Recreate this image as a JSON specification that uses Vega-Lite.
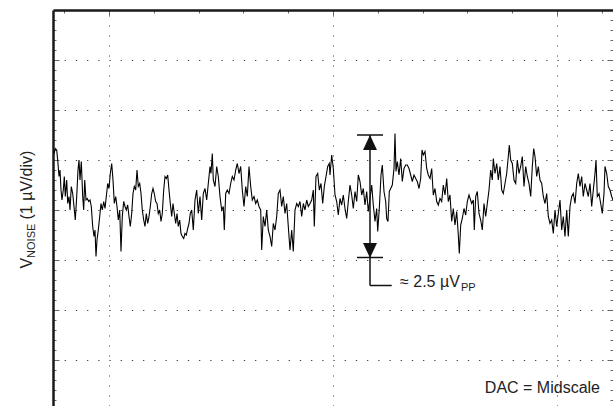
{
 "$schema": "https://vega.github.io/schema/vega-lite/v6.json",
 "width": 560,
 "height": 396,
 "autosize": {"type": "none"},
 "padding": {"left": 53, "top": 10, "right": 0, "bottom": 0},
 "config": {"view": {"stroke": null}, "font": "Liberation Sans", "text": {"font": "Liberation Sans"}},
 "resolve": {"axis": {"y": "independent"}},
 "layer": [
  {
   "data": {"values": [
    {"t":1,"v":1.13},{"t":2.3,"v":1.23},{"t":3.7,"v":1.2},{"t":5,"v":0.93},{"t":6,"v":0.67},{"t":7,"v":0.8},{"t":8,"v":0.4},{"t":9,"v":0.2},{"t":10.3,"v":0.4},{"t":11.3,"v":0.67},{"t":12.3,"v":0.27},{"t":13.7,"v":0.6},{"t":14.7,"v":0.13},{"t":16,"v":0.27},{"t":17,"v":0},{"t":18.3,"v":0.47},{"t":19.7,"v":0.33},{"t":21,"v":0.07},{"t":22.3,"v":-0.2},{"t":23.7,"v":0.27},{"t":25,"v":0.8},{"t":26,"v":1.0},{"t":27,"v":0.6},{"t":28.3,"v":0.97},{"t":29.7,"v":0.27},{"t":30.7,"v":0},{"t":31.7,"v":0.6},{"t":33,"v":0.2},{"t":34.3,"v":0.23},{"t":35.7,"v":0.17},{"t":37,"v":0.2},{"t":38.3,"v":0.07},{"t":39.7,"v":-0.33},{"t":41,"v":-0.53},{"t":42,"v":-0.4},{"t":43,"v":-0.93},{"t":44,"v":-0.6},{"t":45.3,"v":-0.4},{"t":46.7,"v":-0.13},{"t":48,"v":0.13},{"t":49.3,"v":0},{"t":50.7,"v":0.17},{"t":52,"v":0.03},{"t":53.3,"v":0.27},{"t":54.7,"v":0.53},{"t":56,"v":0.43},{"t":57.3,"v":0.73},{"t":58.7,"v":0.93},{"t":60,"v":0.6},{"t":61.3,"v":0.13},{"t":62.7,"v":0.27},{"t":64,"v":0.07},{"t":65.3,"v":-0.2},{"t":66.7,"v":0},{"t":68,"v":-0.83},{"t":69.3,"v":-0.13},{"t":70.7,"v":0.17},{"t":72,"v":0.07},{"t":73.3,"v":0},{"t":74.7,"v":0.1},{"t":76,"v":-0.13},{"t":77.3,"v":-0.33},{"t":78.7,"v":-0.07},{"t":80,"v":0.33},{"t":81.3,"v":0.47},{"t":82.7,"v":0.4},{"t":84,"v":0.8},{"t":85.3,"v":0.47},{"t":86.7,"v":0.53},{"t":88,"v":0.33},{"t":89.3,"v":0},{"t":90.7,"v":-0.2},{"t":92,"v":-0.33},{"t":93.3,"v":-0.07},{"t":94.7,"v":-0.27},{"t":96,"v":-0.13},{"t":97.3,"v":0.07},{"t":98.7,"v":0.33},{"t":100,"v":0.43},{"t":101.3,"v":0.33},{"t":102.7,"v":0.17},{"t":104,"v":0.13},{"t":105.3,"v":-0.07},{"t":106.7,"v":0},{"t":108,"v":-0.23},{"t":109.3,"v":-0.07},{"t":110.7,"v":0.4},{"t":112,"v":0.67},{"t":113.3,"v":0.63},{"t":114.7,"v":0.7},{"t":116,"v":0.4},{"t":117.3,"v":0.13},{"t":118.7,"v":-0.13},{"t":120,"v":0.13},{"t":121.3,"v":-0.07},{"t":122.7,"v":-0.27},{"t":124,"v":-0.07},{"t":125.3,"v":-0.33},{"t":126.7,"v":-0.2},{"t":128,"v":-0.47},{"t":129.3,"v":-0.53},{"t":130.7,"v":-0.57},{"t":132,"v":-0.47},{"t":133.3,"v":-0.5},{"t":134.7,"v":-0.37},{"t":136,"v":-0.27},{"t":137.3,"v":-0.07},{"t":138.7,"v":0},
    {"t":140.3,"v":-0.4},{"t":142,"v":0.2},{"t":143.7,"v":0.4},{"t":145.3,"v":-0.07},{"t":147,"v":0.27},{"t":148.7,"v":-0.2},{"t":150.3,"v":0.33},{"t":152,"v":0.43},{"t":153.7,"v":0.2},{"t":155.3,"v":0.53},{"t":157,"v":0.87},{"t":158,"v":0.73},{"t":159.3,"v":1.13},{"t":160.3,"v":0.6},{"t":162,"v":0.47},{"t":163.7,"v":0.87},{"t":165.3,"v":0.67},{"t":167,"v":0.27},{"t":168.7,"v":0},{"t":170.3,"v":0.07},{"t":171.3,"v":-0.4},{"t":172.7,"v":0.33},{"t":174.3,"v":0.4},{"t":176,"v":0.33},{"t":177.7,"v":0.53},{"t":179.3,"v":0.67},{"t":181,"v":0.6},{"t":182.7,"v":0.8},{"t":184.3,"v":0.93},{"t":186,"v":0.73},{"t":187.7,"v":0.87},{"t":189.3,"v":0.4},{"t":191,"v":0.07},{"t":192.7,"v":0.47},{"t":194.3,"v":0.27},{"t":196,"v":0.87},{"t":197.7,"v":0.47},{"t":199.3,"v":0.2},{"t":201,"v":0.27},{"t":202.7,"v":0.13},{"t":204.3,"v":0.2},{"t":206,"v":0.07},{"t":207.7,"v":0},{"t":208.7,"v":-0.8},{"t":210.3,"v":-0.13},{"t":212,"v":-0.33},{"t":213.7,"v":0},{"t":215.3,"v":-0.4},{"t":217,"v":-0.53},{"t":218.7,"v":-0.73},{"t":220.3,"v":-0.27},{"t":222,"v":-0.4},{"t":223.7,"v":-0.13},{"t":225.3,"v":0.33},{"t":227,"v":0.4},{"t":228.7,"v":0.07},{"t":230.3,"v":0.27},{"t":232,"v":-0.07},{"t":233.7,"v":0.13},{"t":235.3,"v":-0.33},{"t":237,"v":-0.8},{"t":238.7,"v":-0.4},{"t":240.3,"v":-0.83},{"t":242,"v":0},{"t":243.7,"v":0.13},{"t":245.3,"v":0.07},{"t":247,"v":0.17},{"t":248.7,"v":-0.13},{"t":250.3,"v":0.13},{"t":252,"v":0},{"t":253.7,"v":0.2},{"t":255.3,"v":0.07},{"t":257,"v":0.13},{"t":258.7,"v":0.2},{"t":260.3,"v":0.4},{"t":261.3,"v":-0.33},{"t":263,"v":0.67},{"t":264.7,"v":0.73},{"t":266.3,"v":0.4},{"t":268,"v":0.53},{"t":269.7,"v":0.13},{"t":271.3,"v":0.47},{"t":273,"v":0.67},{"t":274.7,"v":0.87},{"t":276.3,"v":0.93},
    {"t":277,"v":0.7},{"t":278.7,"v":1.1},{"t":280.3,"v":0.83},{"t":282,"v":0.3},{"t":283.7,"v":0.17},{"t":285.3,"v":-0.1},{"t":287,"v":0.23},{"t":288.7,"v":0.1},{"t":290.3,"v":0.3},{"t":292,"v":0.03},{"t":293.7,"v":-0.17},{"t":295.3,"v":0.17},{"t":297,"v":0.5},{"t":298.7,"v":0.3},{"t":300.3,"v":0.03},{"t":302,"v":0.37},{"t":303.7,"v":0.17},{"t":305.3,"v":0.7},{"t":307,"v":0.57},{"t":308.7,"v":0.3},{"t":310.3,"v":0.43},{"t":312,"v":0.1},{"t":313.7,"v":0.37},{"t":315.3,"v":-0.03},{"t":317,"v":0.23},{"t":318.7,"v":0.5},{"t":320.3,"v":0.1},{"t":322,"v":-0.23},{"t":323.7,"v":0.03},{"t":324.7,"v":-0.43},{"t":326.3,"v":0.03},{"t":328,"v":0.7},{"t":329.3,"v":0.9},{"t":331,"v":0.37},{"t":332.7,"v":0.17},{"t":333.7,"v":-0.17},{"t":335,"v":-0.23},{"t":336.3,"v":0.37},{"t":337.7,"v":0.43},{"t":339.3,"v":0.5},{"t":341,"v":0.83},{"t":342,"v":1.53},{"t":343,"v":0.77},{"t":344.3,"v":0.97},{"t":346,"v":0.7},{"t":347.7,"v":1.03},{"t":349.3,"v":0.57},{"t":351,"v":0.83},{"t":352.7,"v":0.9},{"t":354.3,"v":0.9},{"t":356,"v":0.83},{"t":357.7,"v":0.7},{"t":359.3,"v":0.57},{"t":361,"v":0.7},{"t":362.7,"v":0.63},{"t":364.3,"v":0.57},{"t":366,"v":0.43},{"t":367.7,"v":0.63},{"t":369,"v":1.2},{"t":370.3,"v":1.1},{"t":372,"v":1.17},{"t":373.7,"v":0.83},{"t":375.3,"v":0.7},{"t":377,"v":0.63},{"t":378.7,"v":0.83},{"t":380.3,"v":0.3},{"t":382,"v":0.43},{"t":383.7,"v":0.17},{"t":385.3,"v":0.1},{"t":387,"v":0.23},{"t":388.7,"v":0.17},{"t":390.3,"v":0.5},{"t":392,"v":0.3},{"t":393.7,"v":0.63},{"t":395.3,"v":0.17},{"t":397,"v":0.3},{"t":398.7,"v":-0.23},{"t":400.3,"v":0.03},{"t":402,"v":-0.3},{"t":403.7,"v":-0.03},{"t":405.3,"v":-0.5},{"t":406.3,"v":-0.87},{"t":407.7,"v":-0.3},{"t":409.3,"v":-0.17},{"t":411,"v":0.03},{"t":412.7,"v":-0.1},{"t":414.3,"v":0.17},{"t":416,"v":0.3},
    {"t":418.7,"v":0.13},{"t":420.3,"v":0.2},{"t":421.3,"v":-0.4},{"t":422.7,"v":0.27},{"t":424.3,"v":0.37},{"t":426,"v":-0.07},{"t":427.7,"v":-0.2},{"t":429.3,"v":-0.4},{"t":431,"v":0.13},{"t":432.7,"v":-0.13},{"t":434.3,"v":0.13},{"t":436,"v":0.4},{"t":437.7,"v":0.8},{"t":439.3,"v":0.6},{"t":440.3,"v":1.03},{"t":442,"v":0.73},{"t":443.7,"v":0.93},{"t":445.3,"v":0.6},{"t":447,"v":0.87},{"t":448.7,"v":0.4},{"t":450.3,"v":0.33},{"t":452,"v":0.53},{"t":453.7,"v":0.73},{"t":455.3,"v":1.07},{"t":456.3,"v":1.3},{"t":457.7,"v":1.0},{"t":459.3,"v":0.93},{"t":461,"v":0.6},{"t":462.7,"v":0.53},{"t":464.3,"v":1.0},{"t":466,"v":0.73},{"t":467.7,"v":0.87},{"t":469.3,"v":1.07},{"t":471,"v":0.47},{"t":472.7,"v":0.87},{"t":474.3,"v":0.67},{"t":476,"v":0.53},{"t":477.7,"v":0.27},{"t":479.3,"v":0.87},{"t":480.7,"v":1.23},{"t":482,"v":1.07},{"t":483.7,"v":0.67},{"t":485.3,"v":0.87},{"t":487,"v":0.6},{"t":488.7,"v":0.53},{"t":490.3,"v":0.27},{"t":492,"v":0.13},{"t":493.7,"v":0.33},{"t":495.3,"v":-0.13},{"t":497,"v":-0.27},{"t":498.7,"v":-0.2},{"t":500.3,"v":-0.47},{"t":502,"v":0},{"t":503.7,"v":-0.33},{"t":505.3,"v":-0.07},{"t":507,"v":0.2},{"t":508.7,"v":-0.4},{"t":510.3,"v":-0.13},{"t":512,"v":-0.53},{"t":513.7,"v":0},{"t":515.3,"v":-0.53},{"t":517,"v":0.07},{"t":518.7,"v":0.27},{"t":520.3,"v":0.33},{"t":522,"v":0.13},{"t":523.7,"v":0.53},{"t":525.3,"v":0.73},{"t":527,"v":0.47},{"t":528.7,"v":0.67},{"t":530.3,"v":0.27},{"t":532,"v":0.53},{"t":533.7,"v":0.4},{"t":535.3,"v":0.27},{"t":537,"v":0.53},{"t":538.7,"v":0.07},{"t":540.3,"v":0.4},{"t":542,"v":0.73},{"t":543,"v":1.0},{"t":544.3,"v":0.27},{"t":546,"v":0.33},{"t":547.7,"v":0.13},{"t":549.3,"v":-0.07},{"t":551,"v":0.33},{"t":552,"v":0.87},{"t":553.7,"v":0.73},{"t":555.3,"v":0.47},{"t":557,"v":0.4},{"t":558.7,"v":0.27},{"t":560,"v":0.2}
   ]},
   "mark": {"type": "line", "color": "#000", "strokeWidth": 1.1},
   "encoding": {
    "x": {"field": "t", "type": "quantitative",
     "scale": {"domain": [0, 560], "nice": false, "zero": false},
     "axis": {"orient": "top", "title": null, "labels": false,
      "values": [11.2,22.4,33.6,44.8,56,67.2,78.4,89.6,100.8,112,123.2,134.4,145.6,156.8,168,179.2,190.4,201.6,212.8,224,235.2,246.4,257.6,268.8,280,291.2,302.4,313.6,324.8,336,347.2,358.4,369.6,380.8,392,403.2,414.4,425.6,436.8,448,459.2,470.4,481.6,492.8,504,515.2,526.4,537.6,548.8,560],
      "domain": true, "domainColor": "#1a1a1a", "domainWidth": 2.5,
      "ticks": true, "tickColor": "#666", "tickWidth": 1,
      "tickSize": {"condition": {"test": "abs(datum.value/56 - round(datum.value/56)) < 0.001", "value": -5}, "value": -3},
      "grid": true, "gridColor": "#333", "gridWidth": 1, "gridDash": [1, 9],
      "gridOpacity": {"condition": {"test": "abs(datum.value/56 - round(datum.value/56)) < 0.001", "value": 1}, "value": 0}}},
    "y": {"field": "v", "type": "quantitative",
     "scale": {"domain": [-3.92, 4], "nice": false, "zero": false},
     "axis": {"orient": "left", "title": null, "labels": false,
      "values": [-3.8,-3.6,-3.4,-3.2,-3,-2.8,-2.6,-2.4,-2.2,-2,-1.8,-1.6,-1.4,-1.2,-1,-0.8,-0.6,-0.4,-0.2,0,0.2,0.4,0.6,0.8,1,1.2,1.4,1.6,1.8,2,2.2,2.4,2.6,2.8,3,3.2,3.4,3.6,3.8],
      "domain": true, "domainColor": "#1a1a1a", "domainWidth": 2.5,
      "ticks": true, "tickColor": "#666", "tickWidth": 1,
      "tickSize": {"condition": {"test": "abs(datum.value - round(datum.value)) < 0.001", "value": -6}, "value": -3},
      "grid": true, "gridColor": "#333", "gridWidth": 1, "gridDash": [1.2, 10],
      "gridOpacity": {"condition": {"test": "abs(datum.value - round(datum.value)) < 0.001", "value": 1}, "value": 0}}}
   }
  },
  {
   "data": {"values": [{}]},
   "mark": {"type": "rule", "color": "#111", "strokeWidth": 1.5},
   "encoding": {
    "x": {"datum": 317, "type": "quantitative"},
    "y": {"datum": 1.5, "type": "quantitative",
     "axis": {"orient": "right", "title": null, "labels": false, "domain": false, "grid": false,
      "values": [-3.8,-3.6,-3.4,-3.2,-3,-2.8,-2.6,-2.4,-2.2,-2,-1.8,-1.6,-1.4,-1.2,-1,-0.8,-0.6,-0.4,-0.2,0,0.2,0.4,0.6,0.8,1,1.2,1.4,1.6,1.8,2,2.2,2.4,2.6,2.8,3,3.2,3.4,3.6,3.8],
      "ticks": true, "tickColor": "#666", "tickWidth": 1,
      "tickSize": {"condition": {"test": "abs(datum.value - round(datum.value)) < 0.001", "value": -6}, "value": -3}}},
    "y2": {"datum": -1.51}
   }
  },
  {
   "data": {"values": [{}]},
   "mark": {"type": "rule", "color": "#111", "strokeWidth": 1.5},
   "encoding": {
    "x": {"datum": 304, "type": "quantitative"}, "x2": {"datum": 330},
    "y": {"datum": 1.5, "type": "quantitative", "axis": null}
   }
  },
  {
   "data": {"values": [{}]},
   "mark": {"type": "rule", "color": "#111", "strokeWidth": 1.5},
   "encoding": {
    "x": {"datum": 304, "type": "quantitative"}, "x2": {"datum": 330},
    "y": {"datum": -0.95, "type": "quantitative", "axis": null}
   }
  },
  {
   "data": {"values": [{}]},
   "mark": {"type": "rule", "color": "#111", "strokeWidth": 1.5},
   "encoding": {
    "x": {"datum": 317, "type": "quantitative"}, "x2": {"datum": 338.7},
    "y": {"datum": -1.51, "type": "quantitative", "axis": null}
   }
  },
  {
   "data": {"values": [{}]},
   "mark": {"type": "point", "shape": "M0,-1L-0.93,1L0.93,1Z", "filled": true, "size": 225, "color": "#111", "opacity": 1, "strokeWidth": 0},
   "encoding": {
    "x": {"datum": 317, "type": "quantitative"},
    "y": {"datum": 1.35, "type": "quantitative", "axis": null}
   }
  },
  {
   "data": {"values": [{}]},
   "mark": {"type": "point", "shape": "M0,1L-0.93,-1L0.93,-1Z", "filled": true, "size": 225, "color": "#111", "opacity": 1, "strokeWidth": 0},
   "encoding": {
    "x": {"datum": 317, "type": "quantitative"},
    "y": {"datum": -0.81, "type": "quantitative", "axis": null}
   }
  },
  {
   "data": {"values": [{"label": "≈ 2.5 µV"}]},
   "mark": {"type": "text", "align": "left", "baseline": "alphabetic", "fontSize": 16, "color": "#222"},
   "encoding": {
    "x": {"datum": 347, "type": "quantitative"},
    "y": {"datum": -1.54, "type": "quantitative", "axis": null},
    "text": {"field": "label"}
   }
  },
  {
   "data": {"values": [{"label": "PP"}]},
   "mark": {"type": "text", "align": "left", "baseline": "alphabetic", "fontSize": 11, "color": "#222"},
   "encoding": {
    "x": {"datum": 408, "type": "quantitative"},
    "y": {"datum": -1.62, "type": "quantitative", "axis": null},
    "text": {"field": "label"}
   }
  },
  {
   "data": {"values": [{"label": "DAC = Midscale"}]},
   "mark": {"type": "text", "align": "right", "baseline": "alphabetic", "fontSize": 16, "color": "#222"},
   "encoding": {
    "x": {"datum": 547, "type": "quantitative"},
    "y": {"datum": -3.66, "type": "quantitative", "axis": null},
    "text": {"field": "label"}
   }
  },
  {
   "data": {"values": [{"label": "V"}]},
   "mark": {"type": "text", "align": "left", "baseline": "alphabetic", "angle": 270, "fontSize": 16, "color": "#222"},
   "encoding": {
    "x": {"datum": -21, "type": "quantitative"},
    "y": {"datum": -1.172, "type": "quantitative", "axis": null},
    "text": {"field": "label"}
   }
  },
  {
   "data": {"values": [{"label": "NOISE"}]},
   "mark": {"type": "text", "align": "left", "baseline": "alphabetic", "angle": 270, "fontSize": 11, "color": "#222"},
   "encoding": {
    "x": {"datum": -18, "type": "quantitative"},
    "y": {"datum": -0.958, "type": "quantitative", "axis": null},
    "text": {"field": "label"}
   }
  },
  {
   "data": {"values": [{"label": "(1 µV/div)"}]},
   "mark": {"type": "text", "align": "left", "baseline": "alphabetic", "angle": 270, "fontSize": 16, "color": "#222"},
   "encoding": {
    "x": {"datum": -21, "type": "quantitative"},
    "y": {"datum": -0.19, "type": "quantitative", "axis": null},
    "text": {"field": "label"}
   }
  }
 ]
}
